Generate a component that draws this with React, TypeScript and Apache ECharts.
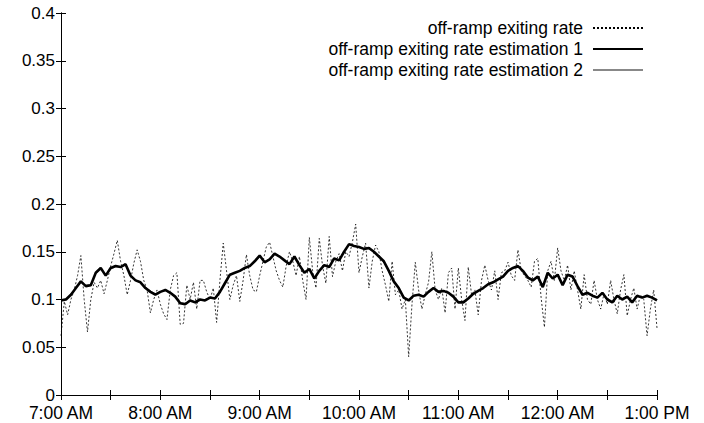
import React, { useEffect, useRef } from "react";
import * as echarts from "echarts";

// minutes after 7:00 AM
const rawTimes: number[] = Array.from({ length: 181 }, (_, i) => i * 2);
const estTimes: number[] = Array.from({ length: 121 }, (_, i) => i * 3);

const xTickLabels = ["7:00 AM", "8:00 AM", "9:00 AM", "10:00 AM", "11:00 AM", "12:00 AM", "1:00 PM"];

const rawRate: number[] = [
  0.062, 0.098, 0.084, 0.1, 0.11, 0.125, 0.146, 0.1, 0.066, 0.1,
  0.118, 0.112, 0.12, 0.106, 0.12, 0.135, 0.148, 0.162, 0.14, 0.125,
  0.105, 0.12, 0.138, 0.152, 0.14, 0.12, 0.11, 0.086, 0.1, 0.11,
  0.095, 0.085, 0.079, 0.11, 0.125, 0.128, 0.074, 0.075, 0.115, 0.1,
  0.118, 0.09, 0.12, 0.12, 0.108, 0.1, 0.112, 0.076, 0.12, 0.159,
  0.13, 0.1, 0.115, 0.125, 0.098, 0.12, 0.147, 0.125, 0.11, 0.108,
  0.125, 0.14, 0.155, 0.16, 0.145, 0.13, 0.12, 0.113, 0.135, 0.15,
  0.14, 0.125, 0.145, 0.12, 0.1, 0.165, 0.13, 0.112, 0.164, 0.135,
  0.117, 0.166, 0.124, 0.14, 0.148, 0.13, 0.15, 0.145, 0.16, 0.179,
  0.128, 0.145, 0.159, 0.112, 0.14, 0.157, 0.15, 0.13, 0.115, 0.098,
  0.14, 0.105, 0.11, 0.09, 0.1, 0.04, 0.095, 0.139, 0.11, 0.09,
  0.105, 0.118, 0.15, 0.11, 0.1, 0.112, 0.086, 0.128, 0.133, 0.09,
  0.133, 0.1, 0.078, 0.134, 0.105, 0.11, 0.084, 0.12, 0.136, 0.12,
  0.11, 0.13, 0.1, 0.128, 0.13, 0.139, 0.125, 0.12, 0.152, 0.13,
  0.125, 0.12, 0.113, 0.14, 0.143, 0.102, 0.071, 0.13, 0.14, 0.12,
  0.154, 0.13, 0.12, 0.136, 0.11, 0.13, 0.11, 0.09, 0.126, 0.1,
  0.095, 0.12, 0.1, 0.09, 0.106, 0.095, 0.12, 0.1, 0.085, 0.11,
  0.126, 0.083, 0.1, 0.112, 0.09, 0.105, 0.1, 0.062, 0.09, 0.11,
  0.07,
];

const estimation1: number[] = [
  0.099, 0.1, 0.105, 0.112, 0.119, 0.114, 0.115, 0.128, 0.133, 0.125,
  0.133, 0.135, 0.134, 0.137, 0.125, 0.12, 0.118, 0.112, 0.108, 0.105,
  0.108, 0.11, 0.107, 0.103, 0.096, 0.095, 0.099, 0.097, 0.1, 0.099,
  0.102, 0.101, 0.108, 0.117, 0.126, 0.128, 0.13, 0.133, 0.135, 0.14,
  0.146, 0.139, 0.142, 0.148, 0.145, 0.141, 0.137, 0.145, 0.136, 0.128,
  0.132, 0.122, 0.13, 0.136, 0.134, 0.143, 0.141, 0.15, 0.158, 0.156,
  0.155, 0.153, 0.154, 0.15, 0.145, 0.14, 0.13, 0.119, 0.112, 0.102,
  0.099, 0.104, 0.105, 0.103, 0.108, 0.112, 0.108, 0.109, 0.107, 0.103,
  0.097, 0.097, 0.101, 0.106, 0.109, 0.112, 0.116, 0.118, 0.121, 0.124,
  0.13, 0.133, 0.135, 0.13, 0.123, 0.12, 0.124, 0.113, 0.128, 0.122,
  0.126, 0.115, 0.126, 0.124, 0.114, 0.105, 0.107, 0.104, 0.102, 0.107,
  0.1, 0.097, 0.104, 0.1, 0.103, 0.097, 0.104, 0.102, 0.104, 0.102,
  0.099,
];

const estimation2: number[] = [
  0.1, 0.101, 0.106, 0.112, 0.118, 0.115, 0.116, 0.127, 0.132, 0.126,
  0.132, 0.134, 0.134, 0.136, 0.126, 0.121, 0.118, 0.113, 0.109, 0.106,
  0.108, 0.109, 0.107, 0.103, 0.097, 0.096, 0.099, 0.098, 0.1, 0.1,
  0.102, 0.102, 0.108, 0.116, 0.125, 0.128, 0.13, 0.133, 0.135, 0.139,
  0.145, 0.14, 0.142, 0.147, 0.145, 0.141, 0.138, 0.144, 0.136, 0.129,
  0.131, 0.123, 0.13, 0.135, 0.134, 0.142, 0.142, 0.15, 0.157, 0.156,
  0.155, 0.153, 0.153, 0.15, 0.145, 0.139, 0.13, 0.12, 0.112, 0.103,
  0.1, 0.104, 0.105, 0.104, 0.108, 0.111, 0.109, 0.109, 0.107, 0.103,
  0.098, 0.098, 0.101, 0.106, 0.109, 0.112, 0.116, 0.118, 0.121, 0.125,
  0.13, 0.133, 0.134, 0.13, 0.124, 0.121, 0.123, 0.115, 0.127, 0.122,
  0.125, 0.116, 0.125, 0.123, 0.114, 0.106, 0.107, 0.104, 0.103, 0.106,
  0.101, 0.098, 0.103, 0.101, 0.103, 0.098, 0.103, 0.102, 0.103, 0.102,
  0.1,
];

const FONT = "'Liberation Sans', Arial, Helvetica, sans-serif";
const FS = 17.5;

export default function App() {
  const ref = useRef<HTMLDivElement>(null);
  useEffect(() => {
    if (!ref.current) return;
    const chart = echarts.init(ref.current, undefined, { renderer: "svg" });
    const tickCommon = { show: true, inside: true, length: 5, lineStyle: { color: "#000", width: 1 } };
    const xLabelFmt = (v: number) => (v % 60 === 0 ? xTickLabels[v / 60] : "");
    chart.setOption({
      animation: false,
      backgroundColor: "#fff",
      grid: { left: 61, right: 47, top: 13, bottom: 28, containLabel: false },
      legend: {
        orient: "vertical",
        right: 60,
        top: 19,
        padding: 0,
        align: "right",
        itemWidth: 50,
        itemHeight: 14,
        itemGap: 3,
        selectedMode: false,
        itemStyle: { opacity: 0 },
        textStyle: { fontFamily: FONT, fontSize: FS, lineHeight: 14, color: "#000", padding: [0, 5, 0, 0] },
        data: ["off-ramp exiting rate", "off-ramp exiting rate estimation 1", "off-ramp exiting rate estimation 2"],
      },
      xAxis: [
        {
          type: "value",
          min: 0,
          max: 360,
          interval: 30,
          axisLine: { show: true, lineStyle: { color: "#000", width: 1 } },
          axisTick: tickCommon,
          splitLine: { show: false },
          axisLabel: {
            formatter: xLabelFmt,
            fontFamily: FONT,
            fontSize: FS,
            lineHeight: 14,
            color: "#000",
            margin: 11,
            showMinLabel: true,
            showMaxLabel: true,
          },
        },
        {
          type: "value",
          position: "top",
          min: 0,
          max: 360,
          interval: 30,
          axisLine: { show: true, lineStyle: { color: "#000", width: 1 } },
          axisTick: tickCommon,
          splitLine: { show: false },
          axisLabel: { show: false },
        },
      ],
      yAxis: [
        {
          type: "value",
          min: 0,
          max: 0.4,
          interval: 0.05,
          axisLine: { show: true, lineStyle: { color: "#000", width: 1 } },
          axisTick: tickCommon,
          splitLine: { show: false },
          axisLabel: {
            formatter: (v: number) => String(+v.toFixed(2)),
            fontFamily: FONT,
            fontSize: 17,
            lineHeight: 14,
            color: "#000",
            margin: 6,
          },
        },
        {
          type: "value",
          position: "right",
          min: 0,
          max: 0.4,
          interval: 0.05,
          axisLine: { show: true, lineStyle: { color: "#000", width: 1 } },
          axisTick: tickCommon,
          splitLine: { show: false },
          axisLabel: { show: false },
        },
      ],
      series: [
        {
          name: "off-ramp exiting rate",
          type: "line",
          symbol: "none",
          data: rawTimes.map((t, i) => [t, rawRate[i]]),
          itemStyle: { color: "#000" },
          lineStyle: { color: "#000", width: 0.8, type: [2, 2] },
          z: 1,
        },
        {
          name: "off-ramp exiting rate estimation 1",
          type: "line",
          symbol: "none",
          data: estTimes.map((t, i) => [t, estimation1[i]]),
          itemStyle: { color: "#000" },
          lineStyle: { color: "#000", width: 2.6 },
          z: 3,
        },
        {
          name: "off-ramp exiting rate estimation 2",
          type: "line",
          symbol: "none",
          data: estTimes.map((t, i) => [t, estimation2[i]]),
          itemStyle: { color: "#888" },
          lineStyle: { color: "#888", width: 1 },
          z: 2,
        },
      ],
    });
    return () => chart.dispose();
  }, []);
  return <div ref={ref} style={{ width: 704, height: 423, position: "absolute", left: 0, top: 0 }} />;
}
